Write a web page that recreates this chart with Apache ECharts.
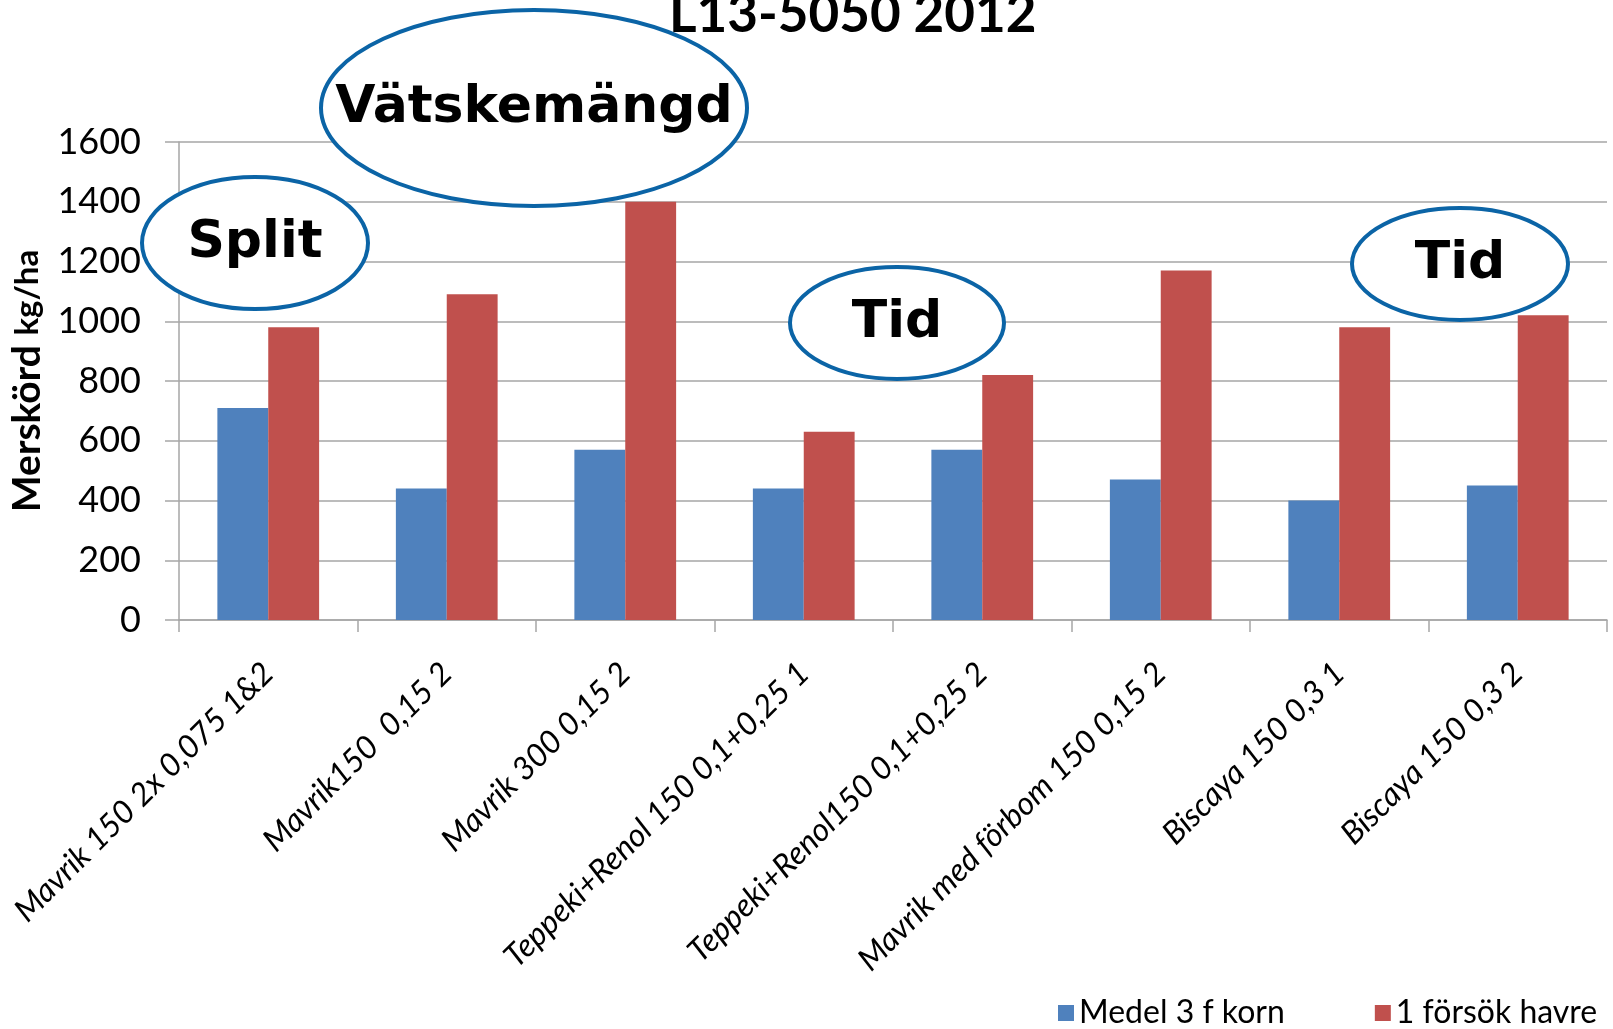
<!DOCTYPE html>
<html>
<head>
<meta charset="utf-8">
<script src="https://cdn.jsdelivr.net/npm/echarts@6/dist/echarts.min.js"></script>
<style>
  html, body { margin: 0; padding: 0; background: #fff; }
  #chart { width: 1613px; height: 1029px; }
</style>
</head>
<body>
<div id="chart"></div>
<script>
const categories = [
    'Mavrik 150 2x 0,075 1&2',
    'Mavrik150  0,15 2',
    'Mavrik 300 0,15 2',
    'Teppeki+Renol 150 0,1+0,25 1',
    'Teppeki+Renol150 0,1+0,25 2',
    'Mavrik med förbom 150 0,15 2',
    'Biscaya 150 0,3 1',
    'Biscaya 150 0,3 2'
]
const seriesNames = ['Medel 3 f korn', '1 försök havre']
const kornValues = [710, 440, 570, 440, 570, 470, 400, 450]
const havreValues = [980, 1090, 1400, 630, 820, 1170, 980, 1020]
const yTicks = [0, 200, 400, 600, 800, 1000, 1200, 1400, 1600]

// notes drawn on top of the chart (ellipse + bold word)
const notes = [
    { text: 'Split', cx: 255, cy: 243, rx: 113, ry: 66 },
    { text: 'Vätskemängd', cx: 534, cy: 108, rx: 213, ry: 98 },
    { text: 'Tid', cx: 897, cy: 323, rx: 107, ry: 56 },
    { text: 'Tid', cx: 1460, cy: 264, rx: 108, ry: 56 }
]

const gridColor = '#a6a6a6'

const noteGraphics = () => {
    let list = []
    notes.forEach((n) => {
        list.push({
            type: 'ellipse',
            shape: { cx: n.cx, cy: n.cy, rx: n.rx, ry: n.ry },
            style: { fill: '#fff', stroke: '#0b64a6', lineWidth: 4 },
            z: 100
        })
        list.push({
            type: 'text',
            x: n.cx,
            y: n.cy,
            style: {
                text: n.text,
                font: 'bold 52px "DejaVu Sans"',
                fill: '#000',
                align: 'center',
                verticalAlign: 'middle'
            },
            z: 101
        })
    })
    return list
}

const initOptions = () => {
    return {
        animation: false,
        textStyle: { fontFamily: 'Lato' },
        title: {
            text: 'L13-5050 2012',
            left: 664,
            top: -17,
            textStyle: {
                fontFamily: 'Lato',
                fontSize: 53,
                fontWeight: 'bold',
                color: '#000'
            }
        },
        grid: {
            left: 179,
            right: 6,
            top: 142,
            bottom: 409,
            outerBoundsMode: 'none'
        },
        legend: {
            left: 1053,
            top: 992,
            itemWidth: 16,
            itemHeight: 16,
            itemGap: 90,
            icon: 'rect',
            data: seriesNames,
            textStyle: {
                fontFamily: 'Lato',
                fontSize: 32,
                color: '#000'
            }
        },
        xAxis: {
            type: 'category',
            data: categories,
            axisLine: { show: true, lineStyle: { color: gridColor, width: 1.5 } },
            axisTick: { show: true, length: 12, lineStyle: { color: gridColor, width: 1.5 } },
            axisLabel: {
                interval: 0,
                rotate: 45,
                margin: 48,
                fontFamily: 'Lato',
                fontStyle: 'italic',
                fontSize: 32,
                color: '#000'
            }
        },
        yAxis: {
            type: 'value',
            min: yTicks[0],
            max: yTicks[yTicks.length - 1],
            interval: yTicks[1] - yTicks[0],
            name: '{a|Merskörd }{b|kg/ha}',
            nameLocation: 'middle',
            nameRotate: 90,
            nameGap: 130,
            nameTextStyle: {
                rich: {
                    a: { fontFamily: 'Lato', fontWeight: 'bold', fontSize: 39, color: '#000' },
                    b: { fontFamily: 'Lato', fontWeight: 'bold', fontSize: 33, color: '#000' }
                }
            },
            axisLine: { show: true, lineStyle: { color: gridColor, width: 1.5 } },
            axisTick: { show: true, length: 14, lineStyle: { color: gridColor, width: 1.5 } },
            axisLabel: {
                margin: 38,
                fontFamily: 'Lato',
                fontSize: 36,
                color: '#000',
                formatter: (v) => String(v)
            },
            splitLine: { show: true, lineStyle: { color: gridColor, width: 1.5 } }
        },
        series: [
            {
                name: seriesNames[0],
                type: 'bar',
                barGap: '0%',
                barCategoryGap: '43%',
                itemStyle: { color: '#4f81bd' },
                data: kornValues
            },
            {
                name: seriesNames[1],
                type: 'bar',
                barGap: '0%',
                barCategoryGap: '43%',
                itemStyle: { color: '#c0504d' },
                data: havreValues
            }
        ],
        graphic: noteGraphics()
    }
}

const chartInit = () => {
    let myChart = echarts.init(document.getElementById('chart'))
    myChart.setOption(initOptions())
}

chartInit()
</script>
</body>
</html>
